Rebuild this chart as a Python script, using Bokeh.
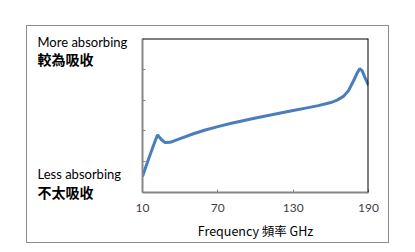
from bokeh.plotting import figure
from bokeh.layouts import row
from bokeh.models import Range1d, Span, FixedTicker
from bokeh.core.properties import value
from bokeh.embed import file_html
from bokeh.resources import INLINE

freq = [10, 13, 16, 19, 22, 25, 28, 32, 40, 50, 60, 70, 80, 90, 100, 110, 120, 130,
        140, 150, 160, 165, 170, 174, 178, 181, 183, 185, 187, 190]
absorb = [0.52, 0.88, 1.22, 1.56, 1.87, 1.72, 1.62, 1.63, 1.75, 1.9, 2.03, 2.14, 2.24,
          2.33, 2.42, 2.5, 2.58, 2.66, 2.74, 2.82, 2.92, 3.0, 3.12, 3.3, 3.62, 3.88,
          4.02, 3.95, 3.75, 3.48]
x_ticks = [10, 70, 130, 190]
y_minor_ticks = [1, 2, 3, 4]
latin_text = ["More absorbing", "Less absorbing"]
cjk_text = ["較為吸收", "不太吸收"]
x_title = "Frequency 頻率 GHz"

# left panel holding the side captions (pixel-space frame)
lp = figure(width=105, height=216, output_backend="svg", toolbar_location=None,
            x_range=Range1d(0, 105), y_range=Range1d(216, 0),
            min_border=0, outline_line_color=None)
lp.frame_align = False
lp.axis.visible = False
lp.grid.visible = False
lp.text(x=[10, 10], y=[15, 147], text=latin_text, text_font=value("Lato"),
        text_font_size="13px", text_color="black", text_align="left",
        text_baseline="middle")
lp.text(x=[10, 10], y=[32, 165], text=cjk_text, text_font=value("Noto Sans CJK TC"),
        text_font_size="14px", text_font_style="bold", text_color="black",
        text_align="left", text_baseline="middle")

p = figure(width=256, height=216, output_backend="svg", toolbar_location=None,
           x_range=Range1d(10, 190), y_range=Range1d(0, 5),
           min_border_left=10, min_border_right=20, min_border_top=12, min_border_bottom=48)
p.frame_align = False
p.outline_line_color = None
p.grid.visible = False
p.background_fill_color = "white"

p.line(freq, absorb, line_color="#4A7EBB", line_width=3)

p.add_layout(Span(location=5, dimension="width", line_color="black", line_width=2))
p.add_layout(Span(location=190, dimension="height", line_color="black", line_width=2))

ax = p.xaxis[0]
ax.ticker = FixedTicker(ticks=x_ticks)
ax.axis_line_color = "#868686"
ax.axis_line_width = 2
ax.major_tick_line_color = "#868686"
ax.major_tick_in = 3
ax.major_tick_out = 0
ax.minor_tick_line_color = None
ax.major_label_text_font = "Lato"
ax.major_label_text_font_size = "12px"
ax.major_label_text_color = "#404040"
ax.major_label_standoff = 11
ax.axis_label = x_title
ax.axis_label_text_font = "Noto Sans CJK TC"
ax.axis_label_text_font_style = "normal"
ax.axis_label_text_font_size = "12.5px"
ax.axis_label_text_color = "black"
ax.axis_label_standoff = 6

ay = p.yaxis[0]
ay.ticker = FixedTicker(ticks=[], minor_ticks=y_minor_ticks)
ay.axis_line_color = "#868686"
ay.axis_line_width = 2
ay.minor_tick_line_color = "#868686"
ay.minor_tick_line_width = 1
ay.minor_tick_in = 3
ay.minor_tick_out = 0

layout = row(lp, p, spacing=0)
layout.margin = (26, 0, 0, 27)
layout.styles = {"outline": "1px solid #8c8c8c"}

open("out.html", "w").write(file_html(layout, INLINE))
